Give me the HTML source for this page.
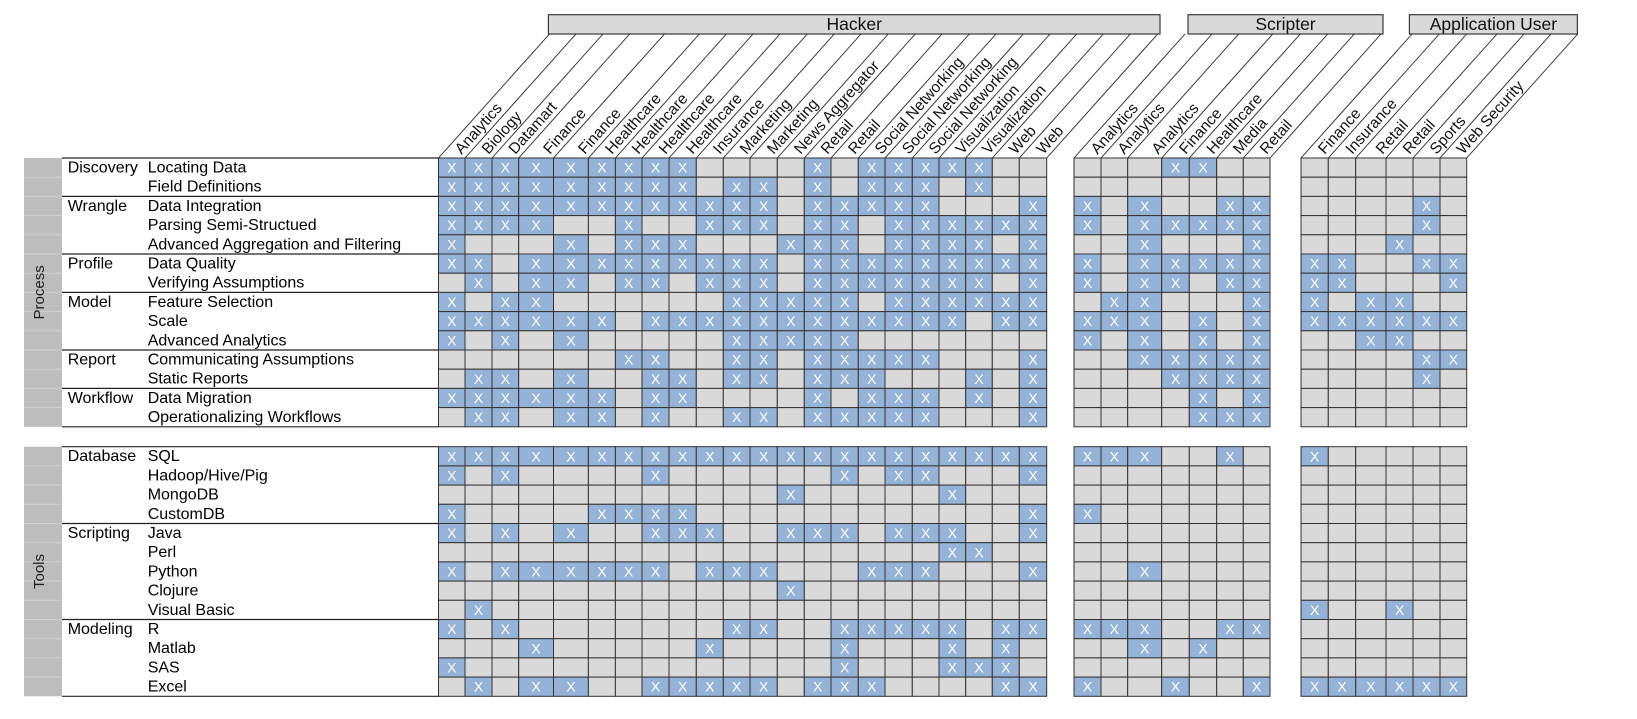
<!DOCTYPE html>
<html><head><meta charset="utf-8"><style>
html,body{margin:0;padding:0;background:#fff;}
svg{display:block;font-family:"Liberation Sans",Arial,sans-serif;}
</style></head><body>
<svg id="chart" width="1637" height="719" viewBox="0 0 1637 719" xmlns="http://www.w3.org/2000/svg"></svg>
<script>
// ---- data ----
const hackerCols = ["Analytics","Biology","Datamart","Finance","Finance","Healthcare","Healthcare","Healthcare","Healthcare","Insurance","Marketing","Marketing","News Aggregator","Retail","Retail","Social Networking","Social Networking","Social Networking","Visualization","Visualization","Web","Web"];
const scripterCols = ["Analytics","Analytics","Analytics","Finance","Healthcare","Media","Retail"];
const appCols = ["Finance","Insurance","Retail","Retail","Sports","Web Security"];
const groupTitles = ["Hacker","Scripter","Application User"];

const processGroups = ["Discovery","Wrangle","Profile","Model","Report","Workflow"];
const processGroupSizes = [2,3,2,3,2,2];
const processItems = ["Locating Data","Field Definitions","Data Integration","Parsing Semi-Structued","Advanced Aggregation and Filtering","Data Quality","Verifying Assumptions","Feature Selection","Scale","Advanced Analytics","Communicating Assumptions","Static Reports","Data Migration","Operationalizing Workflows"];
const toolGroups = ["Database","Scripting","Modeling"];
const toolGroupSizes = [4,5,4];
const toolItems = ["SQL","Hadoop/Hive/Pig","MongoDB","CustomDB","Java","Perl","Python","Clojure","Visual Basic","R","Matlab","SAS","Excel"];

const hackerProcess = [
"XXXXXXXXX----X-XXXXX--",
"XXXXXXXXX-XX-X-XXX-X--",
"XXXXXXXXXXXX-XXXXX---X",
"XXXX--X--XXX-XX-XXXXXX",
"X---X-XXX---XXX-XXXX-X",
"XX-XXXXXXXXX-XXXXXXXXX",
"-X-XX-XX-XXX-XXXXXXX-X",
"X-XX------XXXXX-XXXXXX",
"XXXXXX-XXXXXXXXXXXX-XX",
"X-X-X-----XXXXX-------",
"------XX--XX-XXXXX---X",
"-XX-X--XX-XX-XXX---X-X",
"XXXXXX-XX----X-XXX-X-X",
"-XX-XX-X--XX-XXXXX---X"];
const scripterProcess = ["---XX--","-------","X-X--XX","X-XXXXX","--X---X","X-XXXXX","X-XX-XX","-XX---X","XXX-X-X","X-X-X-X","--XXXXX","---XXXX","----X-X","----XXX"];
const appProcess = ["------","------","----X-","----X-","---X--","XX--XX","XX---X","X-XX--","XXXXXX","--XX--","----XX","----X-","------","------"];

const hackerTools = [
"XXXXXXXXXXXXXXXXXXXXXX",
"X-X----X------X-XX---X",
"------------X-----X---",
"X----XXXX------------X",
"X-X-X--XXX--XXX-XXX--X",
"------------------XX--",
"X-XXXXXX-XXX---XXX---X",
"------------X---------",
"-X--------------------",
"X-X-------XX--XXXXX-XX",
"---X-----X----X---X-X-",
"X-------------X---XXX-",
"-X-XX--XXXXX-XXX----XX"];
const scripterTools = ["XXX--X-","-------","-------","X------","-------","-------","--X----","-------","-------","XXX--XX","--X-X--","-------","X--X--X"];
const appTools = ["X-----","------","------","------","------","------","------","------","X--X--","------","------","------","XXXXXX"];

// ---- layout ----
const NS = "http://www.w3.org/2000/svg";
const svg = document.getElementById("chart");
const hackerEdges = [438.5,465,492,518.7,553.5,588.4,615.4,642,669,696.3,723.3,750,777.3,804.3,831,858.3,885,912.3,939,965.7,992.3,1019.3,1046.7];
const scripterEdges = [1074,1101,1127.7,1161.7,1189.3,1216.7,1243.3,1270];
const appEdges = [1301,1328.3,1355.7,1386,1413,1440,1466.7];
const ROWH = 19.2, PROC_TOP = 158, TOOL_TOP = 446.7, BOX_TOP = 14.7, BOX_BOT = 34, DX = 111;

function el(tag, attrs, parent){
  const e = document.createElementNS(NS, tag);
  for (const k in attrs) e.setAttribute(k, attrs[k]);
  (parent||svg).appendChild(e);
  return e;
}

const sections = [
  {name:"hacker", edges:hackerEdges, cols:hackerCols, title:groupTitles[0], proc:hackerProcess, tools:hackerTools, boxL:548.4, boxR:1160},
  {name:"scripter", edges:scripterEdges, cols:scripterCols, title:groupTitles[1], proc:scripterProcess, tools:scripterTools, boxL:1188, boxR:1383},
  {name:"application-user", edges:appEdges, cols:appCols, title:groupTitles[2], proc:appProcess, tools:appTools, boxL:1409.4, boxR:1577.4}
];

// header boxes, diagonals, labels
sections.forEach(s => {
  const g = el("g", {});
  
  
  const box = el("rect", {x:s.boxL, y:BOX_TOP, width:s.boxR-s.boxL, height:BOX_BOT-BOX_TOP, fill:"#d9d9d9", stroke:"#3a3a3a", "stroke-width":1.2}, g);
  
  
  const t = el("text", {x:(s.boxL+s.boxR)/2, y:30, "text-anchor":"middle", "font-size":17.5, fill:"#111"}, g);
  t.textContent = s.title;
  
  
  s.edges.forEach(x => {
    el("line", {x1:x, y1:PROC_TOP, x2:x+DX, y2:BOX_BOT, stroke:"#222", "stroke-width":0.9}, g);
  });
  s.cols.forEach((c, i) => {
    const right = s.edges[i+1];
    const sx = right - 3.5, sy = 155;
    const lt = el("text", {x:sx, y:sy, "font-size":15.5, fill:"#111", transform:`rotate(-48.2 ${sx} ${sy})`}, g);
    lt.textContent = c;
    
    
  });
});

// grids
function drawGrid(rows, top, s, part){
  rows.forEach((row, r) => {
    for (let c = 0; c < s.cols.length; c++){
      const x0 = s.edges[c], x1 = s.edges[c+1];
      const y0 = top + r*ROWH;
      const on = row[c] === "X";
      const cell = el("rect", {x:x0, y:y0, width:x1-x0, height:ROWH, fill: on ? "#95b3d7" : "#d9d9d9", stroke:"#333", "stroke-width":1});
      
      
      if (on){
        const tx = el("text", {x:(x0+x1)/2, y:y0+ROWH/2+5, "text-anchor":"middle", "font-size":14, fill:"#fff"});
        tx.textContent = "X";
        
        
      }
    }
  });
}
sections.forEach(s => { drawGrid(s.proc, PROC_TOP, s, "process"); drawGrid(s.tools, TOOL_TOP, s, "tools"); });

// left labels
function drawLeft(title, groups, sizes, items, top){
  const n = items.length, bottom = top + n*ROWH;
  const bar = el("rect", {x:24, y:top, width:38, height:bottom-top, fill:"#bdbdbd"});
  
  
  for (let i = 1; i < n; i++){
    el("line", {x1:24, y1:top+i*ROWH, x2:62, y2:top+i*ROWH, stroke:"#d0d0d0", "stroke-width":1});
  }
  const cx = 44, cy = (top+bottom)/2;
  const st = el("text", {x:cx, y:cy, "text-anchor":"middle", "font-size":15, fill:"#222", transform:`rotate(-90 ${cx} ${cy})`});
  st.textContent = title;
  
  
  let r = 0;
  groups.forEach((g, gi) => {
    const y = top + r*ROWH;
    el("line", {x1:62, y1:y, x2:438.5, y2:y, stroke:"#222", "stroke-width":1.2});
    const gt = el("text", {x:67.7, y:y+14.5, "font-size":16, fill:"#000"});
    gt.textContent = g;
    
    
    r += sizes[gi];
  });
  el("line", {x1:62, y1:bottom, x2:438.5, y2:bottom, stroke:"#222", "stroke-width":1.2});
  items.forEach((it, i) => {
    const t = el("text", {x:147.7, y:top+i*ROWH+14.5, "font-size":16, fill:"#000"});
    t.textContent = it;
    
    
  });
}
drawLeft("Process", processGroups, processGroupSizes, processItems, PROC_TOP);
drawLeft("Tools", toolGroups, toolGroupSizes, toolItems, TOOL_TOP);
</script>
</body></html>
